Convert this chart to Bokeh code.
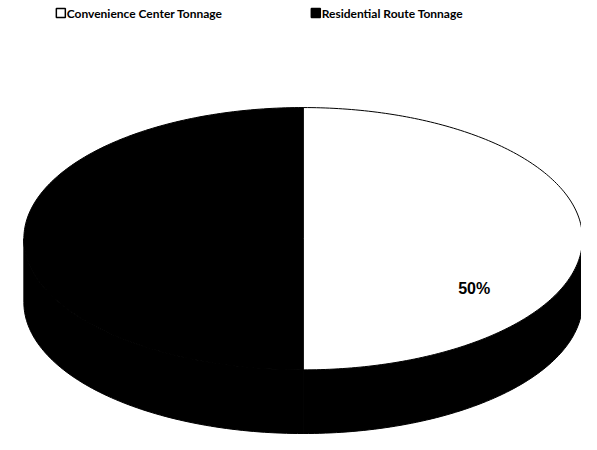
import numpy as np
from bokeh.plotting import figure
from bokeh.models import Range1d
from bokeh.core.properties import value
from bokeh.embed import file_html
from bokeh.resources import INLINE

# data
categories = ["Convenience Center Tonnage", "Residential Route Tonnage"]
shares = [50, 50]
top_colors = ["white", "black"]
side_colors = ["black", "black"]
labels = ["50%", ""]

W, H = 581, 434
p = figure(width=W, height=H, output_backend="svg", toolbar_location=None,
           x_range=Range1d(0, 597), y_range=Range1d(450, 0),
           min_border=0, outline_line_color=None)
p.axis.visible = False
p.grid.visible = False
p.background_fill_color = "white"

cx, cy, rx, ry, depth = 311, 247, 287, 136, 66

def pt(theta):
    return cx + rx * np.sin(theta), cy - ry * np.cos(theta)

total = float(sum(shares))
starts, ends = [], []
a = 0.0
for s in shares:
    starts.append(a)
    a += 2 * np.pi * s / total
    ends.append(a)

# sides (front half only, pi/2 .. 3pi/2)
sx, sy, sc = [], [], []
for st, en, col in zip(starts, ends, side_colors):
    lo, hi = max(st, np.pi / 2), min(en, 3 * np.pi / 2)
    if hi <= lo:
        continue
    th = np.linspace(lo, hi, 80)
    x, y = pt(th)
    xs = list(x) + list(x[::-1])
    ys = list(y) + list((y + depth)[::-1])
    sx.append(xs); sy.append(ys); sc.append(col)
p.patches(sx, sy, fill_color=sc, line_color="black", line_width=1)

# tops
tx, ty = [], []
for st, en in zip(starts, ends):
    th = np.linspace(st, en, 200)
    x, y = pt(th)
    tx.append([cx] + list(x)); ty.append([cy] + list(y))
p.patches(tx, ty, fill_color=top_colors, line_color="black", line_width=1)

# percentage labels
lx, ly, lt = [], [], []
for st, en, lab in zip(starts, ends, labels):
    if not lab:
        continue
    mid = (st + en) / 2 + 0.558
    x, y = cx + 0.722 * rx * np.sin(mid), cy - 0.722 * ry * np.cos(mid)
    lx.append(x); ly.append(y); lt.append(lab)
p.text(lx, ly, text=lt, text_font=value("Liberation Sans"), text_font_style="bold",
       text_font_size="16px", text_align="center", text_baseline="middle", text_color="black")

# legend
leg_x = [62, 324]
leg_y = [13, 13]
p.scatter(leg_x, leg_y, marker="square", size=9, fill_color=top_colors,
          line_color="black", line_width=1.5)
p.text([x + 6 for x in leg_x], leg_y, text=categories, text_font=value("Lato"),
       text_font_style="bold", text_font_size="12px", text_baseline="middle",
       text_color="black")

open("out.html", "w").write(file_html(p, INLINE))
